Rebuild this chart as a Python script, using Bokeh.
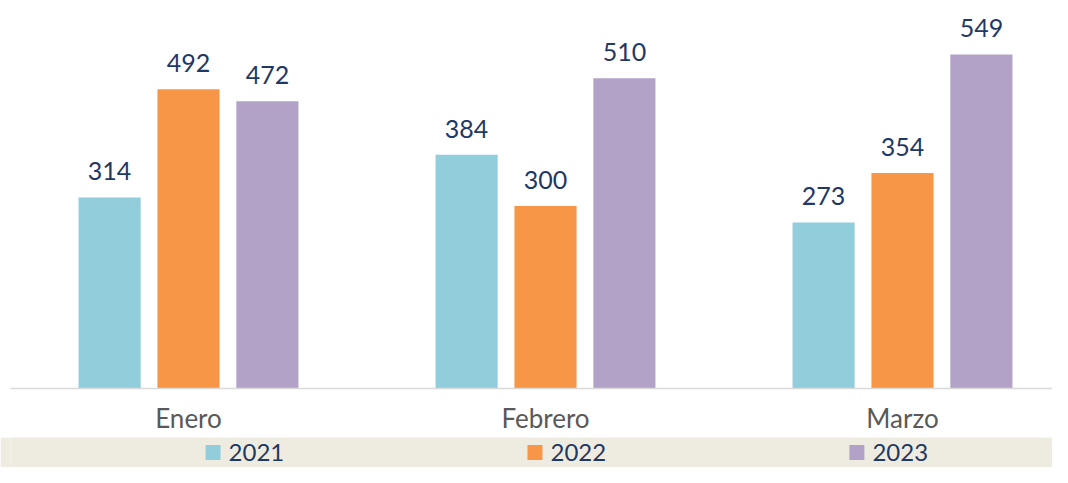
from bokeh.plotting import figure
from bokeh.models import ColumnDataSource, Range1d, FixedTicker
from bokeh.layouts import column
from bokeh.transform import dodge
from bokeh.core.properties import value
from bokeh.embed import file_html
from bokeh.resources import INLINE

months = ["Enero", "Febrero", "Marzo"]
years = ["2021", "2022", "2023"]
v2021 = [314, 384, 273]
v2022 = [492, 300, 354]
v2023 = [472, 510, 549]
colors = ["#92CDDC", "#F79646", "#B3A2C7"]

FONT = "Lato"
NAVY = "#1F3864"
BAND = "#EEECE1"

xs = list(range(len(months)))
series = [v2021, v2022, v2023]
data = dict(x=xs)
for yname, vals in zip(years, series):
    data["v" + yname] = vals
    data["l" + yname] = [str(v) for v in vals]
src = ColumnDataSource(data)

W = 1052
H1 = 437
p = figure(width=W, height=H1,
           x_range=Range1d(-0.4986, -0.4986 + (W - 10) / 357.0),
           y_range=Range1d(0, 637.7),
           output_backend="svg", toolbar_location=None, y_axis_location=None,
           min_border_left=10, min_border_right=0, min_border_top=0,
           min_border_bottom=H1 - 388)
p.outline_line_color = None
p.xgrid.visible = False
p.ygrid.visible = False

offsets = [-0.221, 0.0, 0.221]
for yname, off, col in zip(years, offsets, colors):
    p.vbar(x=dodge("x", off, range=p.x_range), top="v" + yname, width=0.174,
           source=src, fill_color=col, line_color=None)
    p.text(x=dodge("x", off, range=p.x_range), y="v" + yname, text="l" + yname,
           source=src, text_align="center", text_baseline="alphabetic", y_offset=-26,
           text_font=value(FONT), text_font_size="25px", text_color=NAVY)

p.xaxis.ticker = FixedTicker(ticks=xs)
p.xaxis.major_label_overrides = {i: m for i, m in zip(xs, months)}
p.xaxis.major_tick_line_color = None
p.xaxis.minor_tick_line_color = None
p.xaxis.axis_line_color = "#D9D9D9"
p.xaxis.axis_line_width = 1.5
p.xaxis.major_label_standoff = 7
p.xaxis.major_label_text_font = FONT
p.xaxis.major_label_text_font_size = "26px"
p.xaxis.major_label_text_color = "#595959"

# legend band
leg = ColumnDataSource(dict(i=list(range(len(years))), year=years, color=colors))
p2 = figure(width=W, height=467 - H1, output_backend="svg", toolbar_location=None,
            x_axis_location=None, y_axis_location=None, min_border=0,
            background_fill_color=BAND, border_fill_color=BAND,
            x_range=Range1d(-204.5 / 325.0, (W - 204.5) / 325.0), y_range=Range1d(0, 1))
p2.outline_line_color = None
p2.xgrid.visible = False
p2.ygrid.visible = False
p2.scatter(x="i", y=0.5, marker="square", size=15, source=leg,
           fill_color="color", line_color=None)
p2.text(x="i", y=0.5, text="year", source=leg, x_offset=15.5,
        text_align="left", text_baseline="middle",
        text_font=value(FONT), text_font_size="24px", text_color=NAVY)

layout = column(p, p2, spacing=0)
open("out.html", "w").write(file_html(layout, INLINE))
